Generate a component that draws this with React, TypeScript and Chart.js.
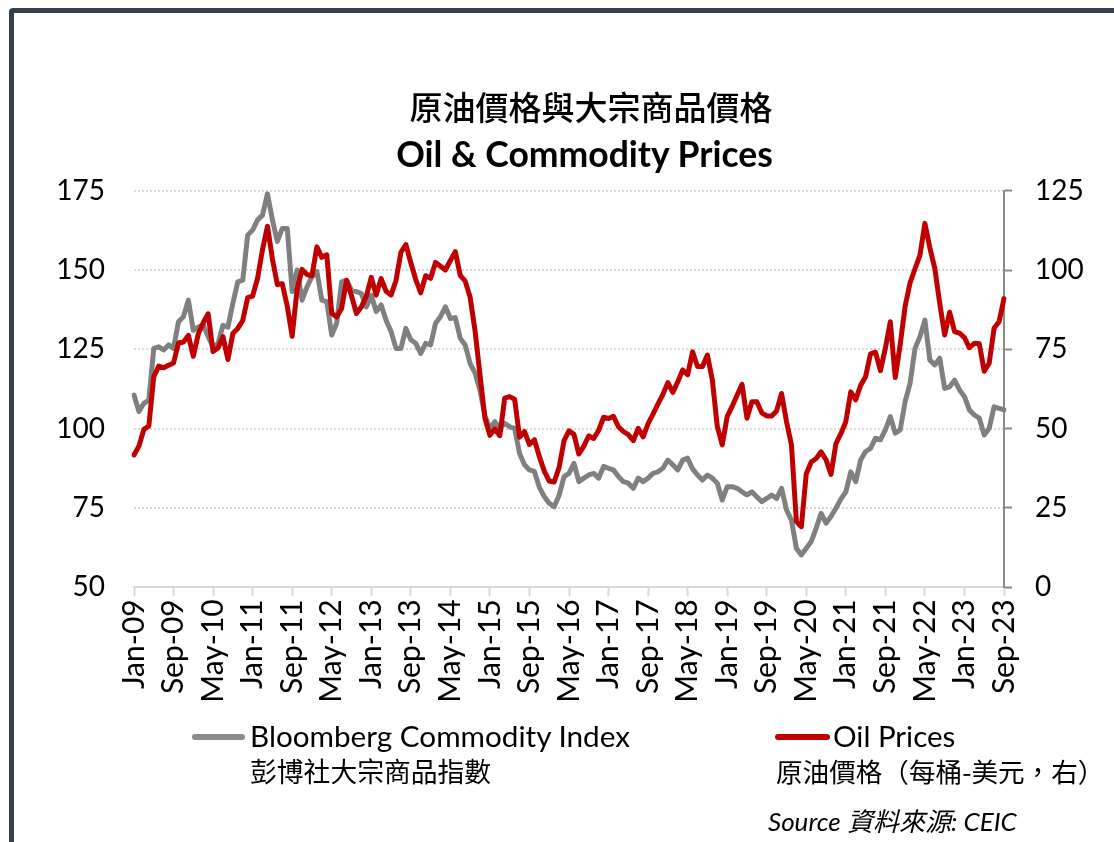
import React, { useEffect, useRef } from "react";
import { Chart, registerables } from "chart.js";

Chart.register(...registerables);

// ---------- data ----------
const MONTH_NAMES = ["Jan", "Feb", "Mar", "Apr", "May", "Jun", "Jul", "Aug", "Sep", "Oct", "Nov", "Dec"];
const START_YEAR = 2009;
const MONTH_COUNT = 177; // Jan-09 .. Sep-23
const categories: string[] = [];
for (let i = 0; i < MONTH_COUNT; i++) {
  const yr = (START_YEAR + Math.floor(i / 12)) % 100;
  categories.push(`${MONTH_NAMES[i % 12]}-${String(yr).padStart(2, "0")}`);
}

// Bloomberg Commodity Index (left axis)
const bloombergIndex = [
  // 2009
  110.6, 105.4, 108, 109, 125.3, 125.8, 124.8, 126.4, 125.3, 133.7, 135.3, 140.5,
  // 2010
  131, 132, 132.7, 129, 125.8, 126.8, 132.6, 132, 139.5, 146.3, 146.8, 161,
  // 2011
  162.6, 165.8, 167.3, 174, 165.8, 159, 163.1, 163.1, 143.2, 150, 140.5, 144.7,
  // 2012
  147.9, 149.5, 140.5, 140, 129.5, 133.2, 146.3, 146.8, 143.7, 143.2, 142.6, 138.4,
  // 2013
  142, 136.9, 139, 134.2, 130.6, 125.3, 125.3, 131.6, 128, 126.9, 123.7, 126.9,
  // 2014
  126.4, 133.2, 135.3, 138.4, 134.7, 135, 128.5, 126.4, 120.5, 117.5, 112, 104,
  // 2015
  100, 102.2, 100, 101.7, 100.6, 100.1, 92.2, 88.6, 87, 86.5, 81.5, 78.6,
  // 2016
  76.5, 75.4, 79, 84.9, 85.9, 89.1, 83.3, 84.4, 85.4, 85.9, 84.4, 88.1,
  // 2017
  87.5, 87, 84.9, 83.3, 82.8, 81.2, 84.4, 83.3, 84.4, 85.9, 86.4, 87.5,
  // 2018
  90.1, 88.6, 87, 90.1, 90.7, 87.3, 85.4, 83.8, 85.4, 84.4, 82.8, 77.5,
  // 2019
  81.7, 81.7, 81.2, 80.1, 79.1, 80.1, 78.5, 77, 78, 79.1, 78, 81.2,
  // 2020
  74.4, 71.2, 62.3, 60.2, 62.3, 64.4, 68.6, 73.3, 70.2, 72.3, 74.9, 77.8,
  // 2021
  80.1, 86.4, 83.3, 90.1, 92.8, 93.8, 97, 96.5, 99.6, 103.8, 98.6, 99.6,
  // 2022
  108.5, 114.3, 125.3, 129, 134.2, 121.6, 120.1, 122.2, 112.7, 113.2, 115.3, 112.2,
  // 2023
  110.1, 105.9, 104.3, 103.3, 98, 100.1, 106.9, 106.4, 105.9,
];

// Oil prices, USD per barrel (right axis)
const oilPrices = [
  // 2009
  41.7, 44.5, 49.8, 50.8, 66.4, 69.7, 69.2, 70, 70.7, 77, 77.3, 79.4,
  // 2010
  72.8, 79.8, 83.4, 86.2, 74.3, 75.4, 79, 71.8, 80, 81.6, 84.1, 91.3,
  // 2011
  91.8, 97.4, 106.5, 113.8, 103.5, 95.4, 95.7, 88.6, 79.1, 94, 100.2, 98.6,
  // 2012
  98.2, 107.3, 104, 104.8, 86.4, 85.2, 87.9, 96.7, 91.9, 86.3, 88.4, 91.7,
  // 2013
  97.7, 92.1, 97.3, 93.3, 92.1, 96.7, 105.6, 108, 102.3, 97, 92.8, 98.2,
  // 2014
  97.4, 102.4, 101.2, 100, 103, 105.8, 98.3, 96.5, 91.4, 80.8, 66.8, 53.3,
  // 2015
  47.9, 49.9, 47.8, 59.6, 60.1, 59.3, 47.3, 49.1, 45, 46.5, 41.2, 36.6,
  // 2016
  33.5, 33.2, 37.8, 46.2, 49.3, 48.2, 42, 44.5, 47.7, 46.9, 49.5, 53.6,
  // 2017
  53.2, 53.9, 50.6, 49.1, 48.1, 46.2, 50.1, 47.4, 51.6, 54.6, 57.8, 60.8,
  // 2018
  64.5, 61.4, 64.8, 68.5, 67, 74.2, 69.6, 69.6, 73.2, 65.3, 50.7, 44.9,
  // 2019
  53.8, 57, 60.5, 64, 53.3, 58.5, 58.5, 55, 54, 54, 55.6, 61.1,
  // 2020
  52.2, 44.9, 20.7, 19.1, 35.8, 39.5, 40.6, 42.7, 40.2, 35.6, 45.3, 48.4,
  // 2021
  52.2, 61.6, 59.1, 63.7, 66.4, 73.6, 74.1, 68.3, 75.3, 83.7, 66.1, 76.5,
  // 2022
  88.6, 96, 100.4, 104.7, 114.7, 107, 100.5, 89.5, 79.5, 86.7, 80.6, 80.1,
  // 2023
  78.7, 75.5, 76.9, 76.8, 68.1, 70.6, 81.7, 83.7, 91,
];

const LABEL_EVERY = 8;
const leftAxisRange = [50, 175];
const rightAxisRange = [0, 125];
const axisStep = 25;

const titleZh = "原油價格與大宗商品價格";
const titleEn = "Oil & Commodity Prices";
const seriesNames = ["Bloomberg Commodity Index", "Oil Prices"];
const seriesNamesZh = ["彭博社大宗商品指數", "原油價格（每桶-美元，右）"];
const sourceText = "Source 資料來源: CEIC";

const GRAY = "#808080";
const RED = "#c00000";
const LATIN = "Lato, 'Noto Sans CJK TC', sans-serif";
const CJK = "'Noto Sans CJK TC', sans-serif";

export default function App() {
  const canvasRef = useRef<HTMLCanvasElement | null>(null);

  useEffect(() => {
    if (!canvasRef.current) return;
    const yTickFont = { family: "Lato", size: 28 };
    const xTickFont = { family: "Lato", size: 30 };
    const chart = new Chart(canvasRef.current, {
      type: "line",
      data: {
        labels: categories,
        datasets: [
          {
            label: seriesNames[0],
            data: bloombergIndex,
            yAxisID: "y",
            borderColor: GRAY,
            backgroundColor: GRAY,
            borderWidth: 5,
            pointRadius: 0,
            tension: 0,
            borderJoinStyle: "round",
            borderCapStyle: "round",
            order: 2,
          },
          {
            label: seriesNames[1],
            data: oilPrices,
            yAxisID: "y1",
            borderColor: RED,
            backgroundColor: RED,
            borderWidth: 5,
            pointRadius: 0,
            tension: 0,
            borderJoinStyle: "round",
            borderCapStyle: "round",
            order: 1,
          },
        ],
      },
      options: {
        animation: false,
        responsive: false,
        maintainAspectRatio: false,
        layout: { padding: { top: 190.7, left: 0, right: 0, bottom: 0 } },
        plugins: {
          legend: { display: false },
          tooltip: { enabled: false },
          title: { display: false },
        },
        scales: {
          x: {
            type: "category",
            grid: {
              display: true,
              drawOnChartArea: false,
              drawTicks: true,
              tickLength: 9,
              tickWidth: 2,
              tickColor: "#d9d9d9",
              color: "#d9d9d9",
            },
            border: { display: true, color: "#d9d9d9", width: 2 },
            ticks: {
              autoSkip: false,
              maxRotation: 90,
              minRotation: 90,
              padding: 3,
              color: "#000",
              font: xTickFont,
              callback: (_v: any, i: number) => (i % LABEL_EVERY === 0 ? categories[i] : null),
            },
            afterFit: (s: any) => {
              s.height = 842 - 587.3;
            },
          },
          y: {
            position: "left",
            min: leftAxisRange[0],
            max: leftAxisRange[1],
            ticks: { stepSize: axisStep, padding: 29, color: "#000", font: yTickFont },
            grid: { color: "#d9d9d9", lineWidth: 2, drawTicks: false },
            border: { display: false, dash: [2, 2] },
            afterFit: (s: any) => {
              s.width = 134;
            },
          },
          y1: {
            position: "right",
            min: rightAxisRange[0],
            max: rightAxisRange[1],
            ticks: { stepSize: axisStep, padding: 23, color: "#000", font: yTickFont },
            grid: {
              drawOnChartArea: false,
              drawTicks: true,
              tickLength: 8,
              tickWidth: 2,
              tickColor: "#8a8a8a",
              color: "#8a8a8a",
            },
            border: { display: true, color: "#8a8a8a", width: 2 },
            afterFit: (s: any) => {
              s.width = 110;
            },
          },
        },
      },
    } as any);
    return () => chart.destroy();
  }, []);

  const abs = (extra: React.CSSProperties): React.CSSProperties => ({
    position: "absolute",
    whiteSpace: "nowrap",
    lineHeight: 1,
    color: "#000",
    ...extra,
  });

  return (
    <div
      style={{
        position: "fixed",
        left: 0,
        top: 0,
        width: 1114,
        height: 842,
        overflow: "hidden",
        background: "#fff",
      }}
    >
      <div
        style={{
          position: "absolute",
          left: 9,
          top: 8,
          width: 1300,
          height: 1000,
          border: "5px solid #37414b",
          borderRadius: 4,
          boxSizing: "border-box",
        }}
      />
      <canvas
        ref={canvasRef}
        width={1114}
        height={842}
        style={{ position: "absolute", left: 0, top: 0, width: 1114, height: 842 }}
      />
      <div style={abs({ left: 291, width: 600, top: 90, textAlign: "center", fontFamily: CJK, fontSize: 33, fontWeight: 500 })}>
        {titleZh}
      </div>
      <div style={abs({ left: 284.5, width: 600, top: 136, textAlign: "center", fontFamily: LATIN, fontSize: 35.5, fontWeight: 700 })}>
        {titleEn}
      </div>

      <div style={abs({ left: 192, top: 734, width: 53, height: 6, borderRadius: 3, background: "#8c8c8c" })} />
      <div style={abs({ left: 250, top: 721, fontFamily: LATIN, fontSize: 29.7 })}>{seriesNames[0]}</div>
      <div style={abs({ left: 250, top: 758, fontFamily: CJK, fontSize: 26.8 })}>{seriesNamesZh[0]}</div>

      <div style={abs({ left: 775, top: 734, width: 55, height: 6, borderRadius: 3, background: RED })} />
      <div style={abs({ left: 833, top: 721, fontFamily: LATIN, fontSize: 29.5 })}>{seriesNames[1]}</div>
      <div style={abs({ left: 776, top: 758, fontFamily: CJK, fontSize: 26.6 })}>{seriesNamesZh[1]}</div>

      <div style={abs({ left: 768, top: 808, fontFamily: LATIN, fontSize: 26, fontStyle: "italic" })}>{sourceText}</div>
    </div>
  );
}
